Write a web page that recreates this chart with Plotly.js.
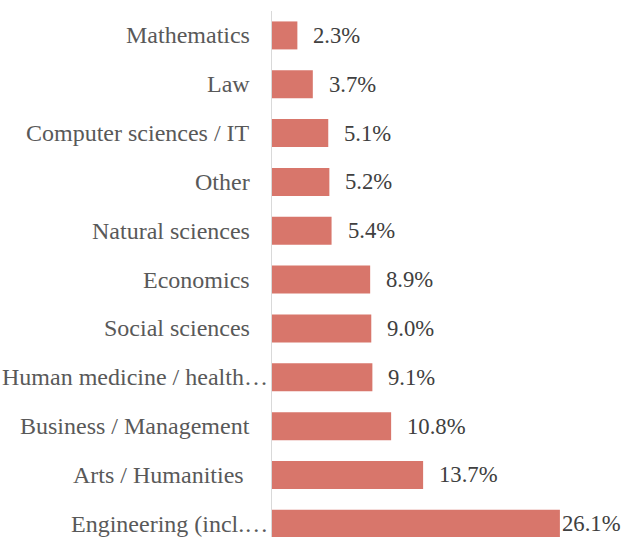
<!DOCTYPE html>
<html>
<head>
<meta charset="utf-8">
<script src="https://cdn.plot.ly/plotly-3.0.1.min.js"></script>
<style>html,body{margin:0;padding:0;background:#fff;}#chart{width:622px;height:537px;}</style>
</head>
<body>
<div id="chart"></div>
<script>
// Categories listed top to bottom as shown
const categories = [
  "Mathematics",
  "Law",
  "Computer sciences / IT",
  "Other",
  "Natural sciences",
  "Economics",
  "Social sciences",
  "Human medicine / health\u2026",
  "Business / Management",
  "Arts / Humanities",
  "Engineering (incl.\u2026"
];
const shares = [2.3, 3.7, 5.1, 5.2, 5.4, 8.9, 9.0, 9.1, 10.8, 13.7, 26.1];
const shareLabels = shares.map(v => v.toFixed(1) + "%");

const serif = "Liberation Serif, Times New Roman, serif";
const maxShare = Math.max(...shares);
const valueFont = {family: serif, size: 22.7, color: "#404040"};
const catFont = {family: serif, size: 24, color: "#595959"};

// value labels to the right of each bar
const valueAnnotations = shares.map((v, i) => ({
  x: v, y: categories[i], xref: "x", yref: "y",
  text: shareLabels[i], showarrow: false,
  xanchor: "left", yanchor: "middle",
  xshift: v === maxShare ? 0 : 14,
  font: valueFont
}));

// category labels (truncated labels reach closer to the axis, like the original)
const categoryAnnotations = categories.map((c, i) => ({
  x: 0, y: c, xref: "paper", yref: "y",
  text: c, showarrow: false,
  xanchor: "right", yanchor: "middle",
  xshift: c.endsWith("\u2026") ? -2 : (c === "Arts / Humanities" ? -26 : -20),
  font: catFont
}));

const trace = {
  type: "bar",
  orientation: "h",
  x: shares,
  y: categories,
  marker: {color: "#D8766B"},
  hoverinfo: "skip"
};

const layout = {
  width: 622, height: 537,
  margin: {l: 272, r: 0, t: 10.5, b: 0, pad: 0},
  paper_bgcolor: "#ffffff",
  plot_bgcolor: "#ffffff",
  bargap: 0.427,
  showlegend: false,
  xaxis: {range: [0, 31.73], visible: false, showgrid: false, zeroline: false, fixedrange: true},
  yaxis: {
    type: "category",
    range: [10.27, -0.5],
    showline: true, linecolor: "#d9d9d9", linewidth: 1.5,
    showgrid: false, zeroline: false, ticks: "",
    showticklabels: false
  },
  annotations: categoryAnnotations.concat(valueAnnotations)
};

Plotly.newPlot("chart", [trace], layout, {displayModeBar: false, staticPlot: true});
</script>
</body>
</html>
